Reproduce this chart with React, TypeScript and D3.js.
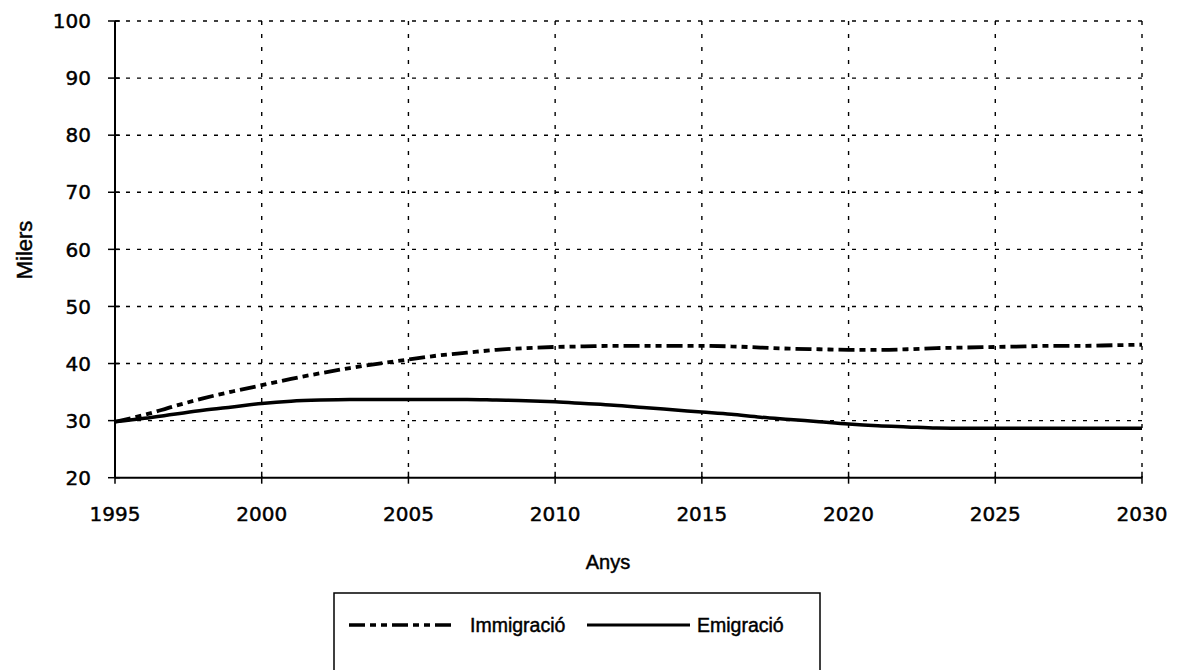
import React from "react";
import * as d3 from "d3";

const years = [1995,1996,1997,1998,1999,2000,2001,2002,2003,2004,2005,2006,2007,2008,2009,2010,2011,2012,2013,2014,2015,2016,2017,2018,2019,2020,2021,2022,2023,2024,2025,2026,2027,2028,2029,2030];
const immigracio = [29.8,31.0,32.5,33.9,35.1,36.2,37.3,38.3,39.2,40.0,40.7,41.4,41.9,42.4,42.7,42.9,43.0,43.1,43.1,43.1,43.1,43.0,42.8,42.6,42.5,42.4,42.4,42.5,42.7,42.8,42.9,43.0,43.1,43.1,43.2,43.3];
const emigracio = [29.8,30.4,31.1,31.8,32.4,33.0,33.4,33.6,33.7,33.7,33.7,33.7,33.7,33.6,33.5,33.3,33.0,32.7,32.3,31.9,31.5,31.1,30.6,30.2,29.8,29.4,29.1,28.9,28.7,28.65,28.65,28.65,28.65,28.65,28.65,28.65];
const xTicks = [1995,2000,2005,2010,2015,2020,2025,2030];
const yTicks = [20,30,40,50,60,70,80,90,100];

const W = 1178, H = 670;
const FONT = "'DejaVu Sans', sans-serif";
const FONT2 = "'Liberation Sans', Arial, sans-serif";

export default function App() {
  const x = d3.scaleLinear().domain([1995, 2030]).range([115, 1142]);
  const y = d3.scaleLinear().domain([20, 100]).range([477.7, 21]);
  const line = d3.line<[number, number]>().x(d => x(d[0])).y(d => y(d[1])).curve(d3.curveMonotoneX);
  const immPts = years.map((yr, i) => [yr, immigracio[i]] as [number, number]);
  const emiPts = years.map((yr, i) => [yr, emigracio[i]] as [number, number]);
  const immDash = "16,5,6,5,6,5";
  const txt = { fill: "#000", stroke: "#000", strokeWidth: 0.45 };

  return (
    <>
      <style>{`body{margin:0}`}</style>
      <svg width={W} height={H} style={{ display: "block", background: "#fff" }}>
        {/* grid */}
        {yTicks.filter(t => t !== 20).map(t => (
          <line key={"gy" + t} x1={x(1995)} x2={x(2030)} y1={y(t)} y2={y(t)} stroke="#000" strokeWidth={1.4} strokeDasharray="4,7" />
        ))}
        {xTicks.filter(t => t !== 1995).map(t => (
          <line key={"gx" + t} x1={x(t)} x2={x(t)} y1={y(100)} y2={y(20)} stroke="#000" strokeWidth={1.4} strokeDasharray="4,9" />
        ))}
        {/* axes */}
        <line x1={x(1995)} x2={x(1995)} y1={y(100)} y2={y(20)} stroke="#000" strokeWidth={2} />
        <line x1={x(1995)} x2={x(2030)} y1={y(20)} y2={y(20)} stroke="#000" strokeWidth={2} />
        {yTicks.map(t => (
          <g key={"ty" + t}>
            <line x1={x(1995) - 7} x2={x(1995) + 5} y1={y(t)} y2={y(t)} stroke="#000" strokeWidth={1.5} />
            <text x={91} y={y(t)} dy="0.36em" textAnchor="end" fontFamily={FONT} fontSize={20} {...txt}>{t}</text>
          </g>
        ))}
        {xTicks.map(t => (
          <g key={"tx" + t}>
            <line x1={x(t)} x2={x(t)} y1={y(20) - 6} y2={y(20) + 6} stroke="#000" strokeWidth={1.5} />
            <text x={x(t)} y={514} dy="0.36em" textAnchor="middle" fontFamily={FONT} fontSize={20} {...txt}>{t}</text>
          </g>
        ))}
        <text x={608} y={562} dy="0.36em" textAnchor="middle" fontFamily={FONT2} fontSize={20} {...txt}>Anys</text>
        <text transform={`translate(24,250) rotate(-90)`} dy="0.36em" textAnchor="middle" fontFamily={FONT2} fontSize={22} {...txt}>Milers</text>
        {/* series */}
        <path d={line(immPts) || ""} fill="none" stroke="#000" strokeWidth={3.8} strokeDasharray={immDash} />
        <path d={line(emiPts) || ""} fill="none" stroke="#000" strokeWidth={3.5} />
        {/* legend */}
        <rect x={334} y={593} width={486} height={110} fill="none" stroke="#000" strokeWidth={1.5} />
        <line x1={349} x2={453} y1={625} y2={625} stroke="#000" strokeWidth={3.5} strokeDasharray={immDash} />
        <text x={470} y={625} dy="0.36em" fontFamily={FONT2} fontSize={19.5} {...txt}>Immigració</text>
        <line x1={587} x2={690} y1={625} y2={625} stroke="#000" strokeWidth={3} />
        <text x={697} y={625} dy="0.36em" fontFamily={FONT2} fontSize={19.5} {...txt}>Emigració</text>
      </svg>
    </>
  );
}
